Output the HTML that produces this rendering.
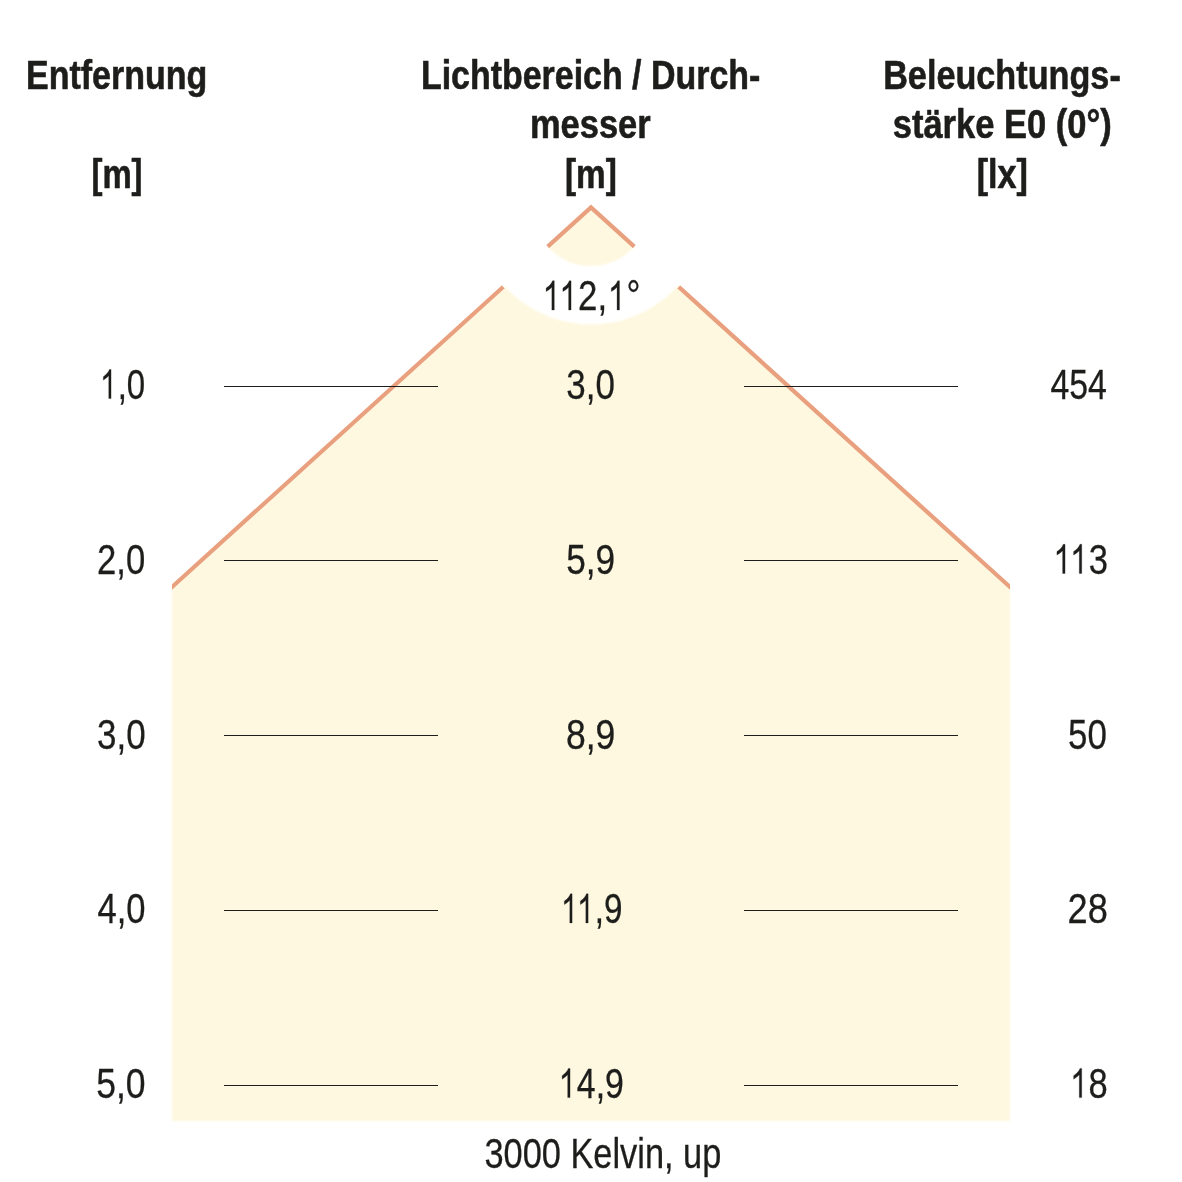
<!DOCTYPE html>
<html><head><meta charset="utf-8"><title>Lichtkegel</title>
<style>
html,body{margin:0;padding:0;background:#fff;}
body{width:1182px;height:1182px;overflow:hidden;font-family:"Liberation Sans",sans-serif;}
svg{display:block;}
g.r,g.b{font-family:"Liberation Sans",sans-serif;font-size:42.5px;fill:#1d1d1b;stroke:#1d1d1b;stroke-width:0.3px;stroke-linejoin:round;}
tspan.h{fill:none;stroke:none;}
g.b{font-weight:bold;font-size:40px;stroke-width:0.6px;}
</style></head><body>
<svg width="1182" height="1182" viewBox="0 0 1182 1182">
<defs>
<mask id="ring" maskUnits="userSpaceOnUse" x="0" y="0" width="1182" height="1182">
<rect x="0" y="0" width="1182" height="1182" fill="#fff"/>
<circle cx="591" cy="207.4" r="88.5" fill="none" stroke="#000" stroke-width="60.0"/>
</mask>
<filter id="bl" filterUnits="userSpaceOnUse" x="100" y="150" width="1000" height="1020"><feGaussianBlur stdDeviation="1.2"/></filter>
<mask id="ringF" maskUnits="userSpaceOnUse" x="0" y="0" width="1182" height="1182">
<rect x="0" y="0" width="1182" height="1182" fill="#fff"/>
<circle cx="591" cy="207.4" r="87.75" fill="none" stroke="#000" stroke-width="58.5"/>
</mask>
<clipPath id="cl"><rect x="172" y="0" width="838" height="1182"/></clipPath>
</defs>
<rect width="1182" height="1182" fill="#fff"/>
<g filter="url(#bl)"><polygon mask="url(#ringF)" points="172,587.0 591,207.4 1010,587.0 1010,1121 172,1121" fill="#FEF8E0"/></g>
<g mask="url(#ring)">
<polyline clip-path="url(#cl)" points="162,596.06 591,207.4 1020,596.06" fill="none" stroke="#E9A07E" stroke-width="4.2" stroke-linejoin="miter"/>
</g>
<g fill="#1d1d1b"><rect x="224" y="386" width="214" height="1"/><rect x="744" y="386" width="214" height="1"/><rect x="224" y="560" width="214" height="1"/><rect x="744" y="560" width="214" height="1"/><rect x="224" y="735" width="214" height="1"/><rect x="744" y="735" width="214" height="1"/><rect x="224" y="910" width="214" height="1"/><rect x="744" y="910" width="214" height="1"/><rect x="224" y="1085" width="214" height="1"/><rect x="744" y="1085" width="214" height="1"/></g>
<g opacity="0.999">
<g class="b" transform="matrix(0.8495 0 0 1 26.06 88.50)"><text>Entfernung</text></g>
<g class="b" transform="matrix(0.8219 0 0 1 91.44 188.00)"><text>[m]</text></g>
<g class="b" transform="matrix(0.8486 0 0 1 420.96 88.50)"><text>Lichtbereich / Durch-</text></g>
<g class="b" transform="matrix(0.8605 0 0 1 530.02 138.20)"><text>messer</text></g>
<g class="b" transform="matrix(0.8339 0 0 1 564.92 188.00)"><text>[m]</text></g>
<g class="b" transform="matrix(0.8555 0 0 1 883.15 88.50)"><text>Beleuchtungs-</text></g>
<g class="b" transform="matrix(0.8626 0 0 1 892.75 138.20)"><text>stärke E0 (0°)</text></g>
<g class="b" transform="matrix(0.8541 0 0 1 976.68 188.00)"><text>[lx]</text></g>
<g class="r" transform="matrix(0.8193 0 0 1 541.88 310.00)"><text><tspan class="h" x="0.00">1</tspan><tspan class="h" x="20.49">1</tspan><tspan x="44.12">2,</tspan><tspan class="h" x="79.57">1</tspan><tspan x="103.21">°</tspan></text><path d="M15.15 0.00L12.17 0.00L12.17 -22.77Q10.62 -21.54 8.68 -20.31Q6.73 -19.08 5.18 -18.46L5.18 -21.91Q7.96 -23.32 10.05 -25.33Q12.14 -27.33 13.00 -29.22L15.15 -29.22Z"/><path d="M35.63 0.00L32.65 0.00L32.65 -22.77Q31.11 -21.54 29.16 -20.31Q27.21 -19.08 25.66 -18.46L25.66 -21.91Q28.45 -23.32 30.54 -25.33Q32.62 -27.33 33.49 -29.22L35.63 -29.22Z"/><path d="M94.71 0.00L91.74 0.00L91.74 -22.77Q90.19 -21.54 88.24 -20.31Q86.30 -19.08 84.75 -18.46L84.75 -21.91Q87.53 -23.32 89.62 -25.33Q91.71 -27.33 92.57 -29.22L94.71 -29.22Z"/></g>
<g class="r" transform="matrix(0.7764 0 0 1 99.30 398.60)"><text><tspan class="h" x="0.00">1</tspan><tspan x="23.64">,0</tspan></text><path d="M15.15 0.00L12.17 0.00L12.17 -22.77Q10.62 -21.54 8.68 -20.31Q6.73 -19.08 5.18 -18.46L5.18 -21.91Q7.96 -23.32 10.05 -25.33Q12.14 -27.33 13.00 -29.22L15.15 -29.22Z"/></g>
<g class="r" transform="matrix(0.8157 0 0 1 96.99 573.50)"><text>2,0</text></g>
<g class="r" transform="matrix(0.8222 0 0 1 97.01 748.50)"><text>3,0</text></g>
<g class="r" transform="matrix(0.8130 0 0 1 97.54 923.00)"><text>4,0</text></g>
<g class="r" transform="matrix(0.8363 0 0 1 96.20 1097.60)"><text>5,0</text></g>
<g class="r" transform="matrix(0.8222 0 0 1 566.31 398.60)"><text>3,0</text></g>
<g class="r" transform="matrix(0.8285 0 0 1 566.22 573.50)"><text>5,9</text></g>
<g class="r" transform="matrix(0.8355 0 0 1 565.92 748.50)"><text>8,9</text></g>
<g class="r" transform="matrix(0.7825 0 0 1 560.27 923.00)"><text><tspan class="h" x="0.00">1</tspan><tspan class="h" x="20.49">1</tspan><tspan x="44.12">,9</tspan></text><path d="M15.15 0.00L12.17 0.00L12.17 -22.77Q10.62 -21.54 8.68 -20.31Q6.73 -19.08 5.18 -18.46L5.18 -21.91Q7.96 -23.32 10.05 -25.33Q12.14 -27.33 13.00 -29.22L15.15 -29.22Z"/><path d="M35.63 0.00L32.65 0.00L32.65 -22.77Q31.11 -21.54 29.16 -20.31Q27.21 -19.08 25.66 -18.46L25.66 -21.91Q28.45 -23.32 30.54 -25.33Q32.62 -27.33 33.49 -29.22L35.63 -29.22Z"/></g>
<g class="r" transform="matrix(0.7968 0 0 1 557.99 1097.60)"><text><tspan class="h" x="0.00">1</tspan><tspan x="23.64">4,9</tspan></text><path d="M15.15 0.00L12.17 0.00L12.17 -22.77Q10.62 -21.54 8.68 -20.31Q6.73 -19.08 5.18 -18.46L5.18 -21.91Q7.96 -23.32 10.05 -25.33Q12.14 -27.33 13.00 -29.22L15.15 -29.22Z"/></g>
<g class="r" transform="matrix(0.7966 0 0 1 1050.46 398.60)"><text>454</text></g>
<g class="r" transform="matrix(0.8144 0 0 1 1052.71 573.50)"><text><tspan class="h" x="0.00">1</tspan><tspan class="h" x="20.49">1</tspan><tspan x="44.12">3</tspan></text><path d="M15.15 0.00L12.17 0.00L12.17 -22.77Q10.62 -21.54 8.68 -20.31Q6.73 -19.08 5.18 -18.46L5.18 -21.91Q7.96 -23.32 10.05 -25.33Q12.14 -27.33 13.00 -29.22L15.15 -29.22Z"/><path d="M35.63 0.00L32.65 0.00L32.65 -22.77Q31.11 -21.54 29.16 -20.31Q27.21 -19.08 25.66 -18.46L25.66 -21.91Q28.45 -23.32 30.54 -25.33Q32.62 -27.33 33.49 -29.22L35.63 -29.22Z"/></g>
<g class="r" transform="matrix(0.8216 0 0 1 1068.03 748.50)"><text>50</text></g>
<g class="r" transform="matrix(0.8520 0 0 1 1067.62 923.00)"><text>28</text></g>
<g class="r" transform="matrix(0.8115 0 0 1 1069.42 1097.60)"><text><tspan class="h" x="0.00">1</tspan><tspan x="23.64">8</tspan></text><path d="M15.15 0.00L12.17 0.00L12.17 -22.77Q10.62 -21.54 8.68 -20.31Q6.73 -19.08 5.18 -18.46L5.18 -21.91Q7.96 -23.32 10.05 -25.33Q12.14 -27.33 13.00 -29.22L15.15 -29.22Z"/></g>
<g class="r" transform="matrix(0.8088 0 0 1 484.43 1167.90)"><text>3000 Kelvin, up</text></g>
</g>
</svg>
</body></html>
